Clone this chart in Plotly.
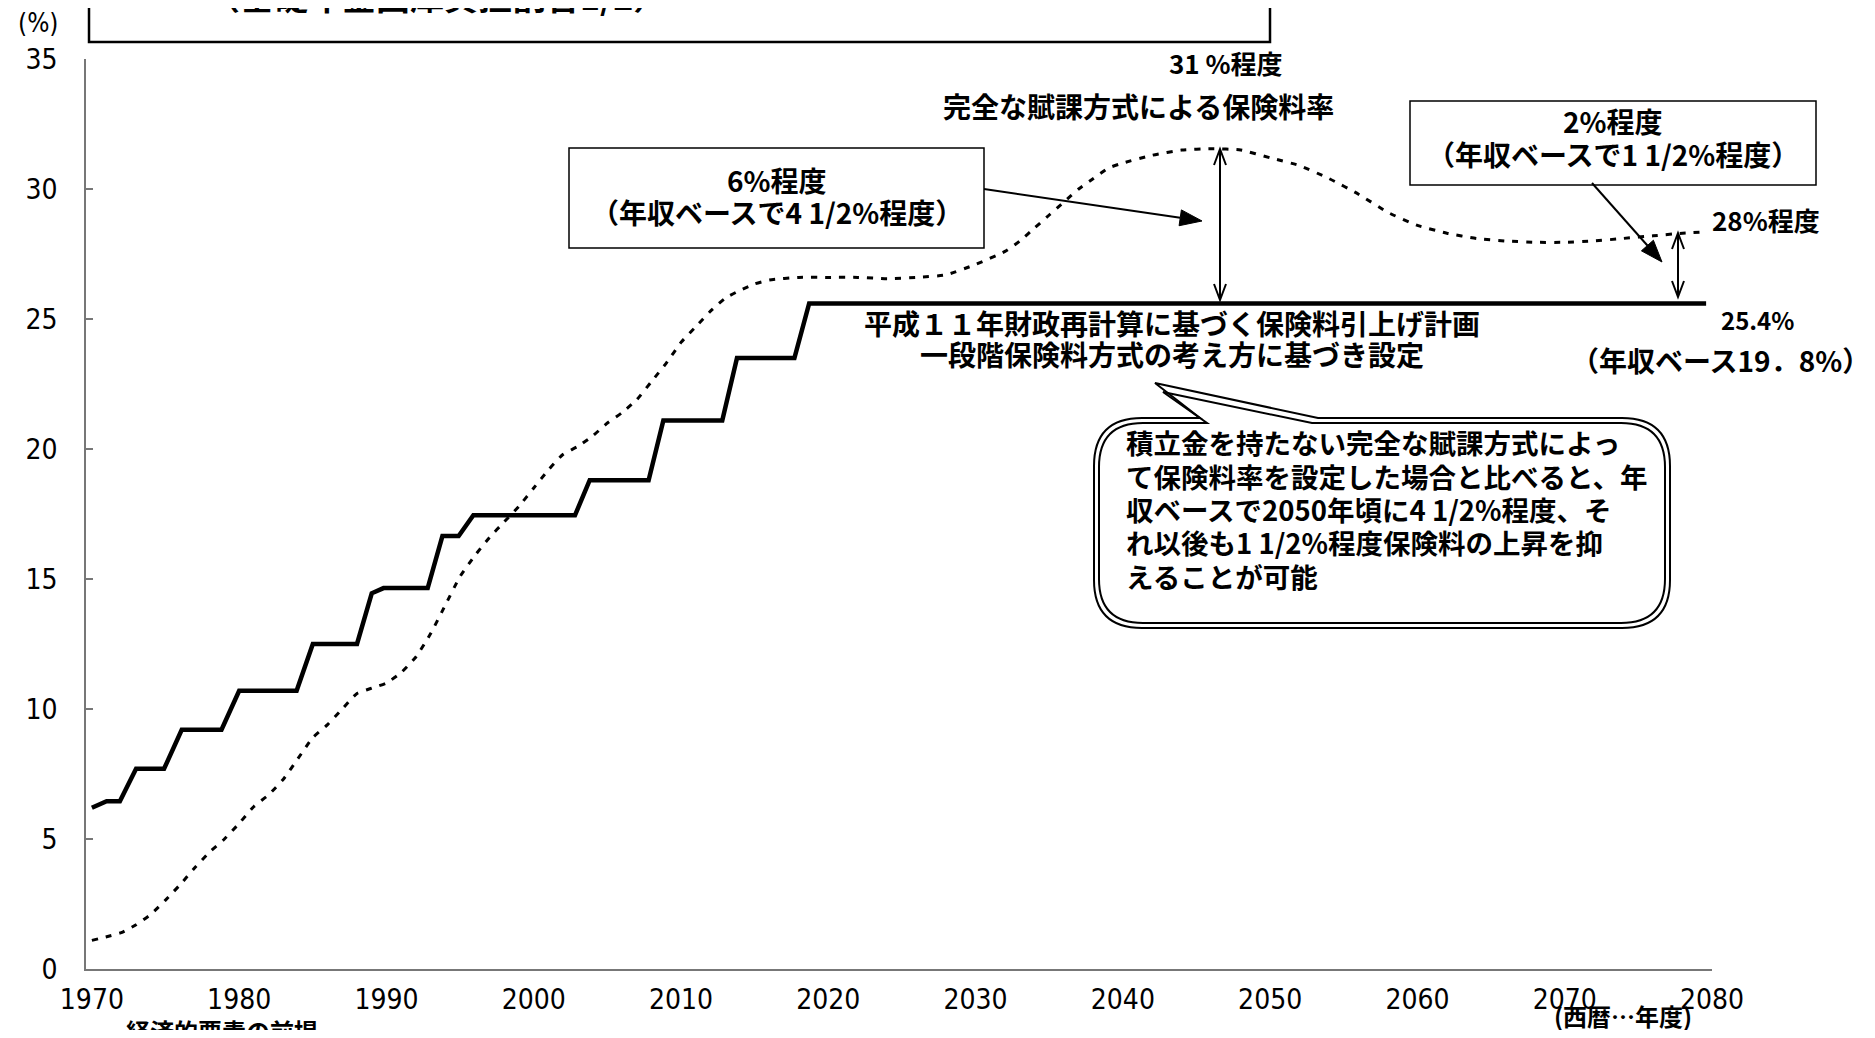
import plotly.graph_objects as go

# ---------------- data ----------------
solid_years = [1970, 1971, 1971.9, 1973.0, 1974.9, 1976.1, 1978.8, 1980.0, 1983.9,
               1985.0, 1988.0, 1989.0, 1989.8, 1992.8, 1993.8, 1994.9, 1995.9, 2002.8,
               2003.8, 2007.8, 2008.8, 2012.8, 2013.8, 2017.7, 2018.7, 2079.6]
solid_rates = [6.2, 6.45, 6.45, 7.7, 7.7, 9.2, 9.2, 10.7, 10.7,
               12.5, 12.5, 14.45, 14.65, 14.65, 16.65, 16.65, 17.45, 17.45,
               18.8, 18.8, 21.1, 21.1, 23.5, 23.5, 25.6, 25.6]

paygo_years = [1970, 1972, 1973, 1974, 1975, 1976, 1977, 1978, 1979, 1980, 1981, 1982,
               1983, 1984, 1985, 1986, 1987, 1988, 1989, 1990, 1991, 1992, 1993, 1994,
               1995, 1996, 1997, 1998, 1999, 2000, 2001, 2002, 2003, 2004, 2005, 2006,
               2007, 2008, 2009, 2010, 2011, 2012, 2013, 2014, 2015, 2016, 2018, 2020,
               2022, 2024, 2026, 2028, 2030, 2032, 2033, 2034, 2035, 2036, 2037, 2038,
               2039, 2040, 2042, 2044, 2046, 2048, 2050, 2052, 2054, 2056, 2058, 2060,
               2062, 2064, 2066, 2068, 2070, 2072, 2074, 2076, 2078, 2079.5]
paygo_rates = [1.1, 1.4, 1.7, 2.1, 2.65, 3.25, 3.9, 4.5, 5.0, 5.6, 6.25, 6.7,
               7.3, 8.1, 8.9, 9.4, 10.0, 10.6, 10.8, 11.0, 11.4, 12.0, 12.9, 14.0,
               15.1, 15.9, 16.6, 17.2, 17.8, 18.5, 19.2, 19.8, 20.1, 20.5, 21.0, 21.4,
               21.9, 22.6, 23.3, 24.1, 24.7, 25.3, 25.8, 26.1, 26.35, 26.5, 26.6, 26.6,
               26.6, 26.55, 26.6, 26.7, 27.1, 27.6, 28.0, 28.5, 29.0, 29.5, 30.0, 30.4,
               30.8, 31.0, 31.3, 31.5, 31.55, 31.5, 31.2, 30.9, 30.4, 29.8, 29.1, 28.6,
               28.3, 28.1, 28.0, 27.95, 27.95, 28.0, 28.1, 28.2, 28.3, 28.35]

x_ticks = list(range(1970, 2081, 10))
y_ticks = list(range(0, 36, 5))

# ---------------- geometry helpers ----------------
W, H, OFF = 1859, 1022, 8
PX0, PX1, PY0, PY1 = 86, 1712, 59, 969
JP_SHIFT = -2.5


def P(xr, yr):
    return ((xr - PX0) / (PX1 - PX0), (PY1 - yr) / (PY1 - PY0))


def path(pts, close=False):
    s = ""
    for i, (a, b) in enumerate(pts):
        px, py = P(a, b)
        s += ("M" if i == 0 else "L") + f"{px:.5f},{py:.5f} "
    if close:
        s += "Z"
    return s


def rounded_bubble(x0, y0, x1, y1, r, tip, b1, b2):
    def p(a, b):
        px, py = P(a, b)
        return f"{px:.5f},{py:.5f}"
    s = f"M{p(x0 + r, y0)} L{p(b1, y0)} L{p(*tip)} L{p(b2, y0)} L{p(x1 - r, y0)} "
    s += f"Q{p(x1, y0)} {p(x1, y0 + r)} L{p(x1, y1 - r)} Q{p(x1, y1)} {p(x1 - r, y1)} "
    s += f"L{p(x0 + r, y1)} Q{p(x0, y1)} {p(x0, y1 - r)} L{p(x0, y0 + r)} Q{p(x0, y0)} {p(x0 + r, y0)} Z"
    return s


fig = go.Figure()
fig.add_trace(go.Scatter(x=paygo_years, y=paygo_rates, mode="lines",
                         line=dict(color="black", width=3, dash="6px,8px", shape="spline", smoothing=0.5),
                         hoverinfo="skip", showlegend=False))
fig.add_trace(go.Scatter(x=solid_years, y=solid_rates, mode="lines",
                         line=dict(color="black", width=4.5),
                         hoverinfo="skip", showlegend=False))

NUM_FONT = "Liberation Sans Narrow, DejaVu Sans Condensed, Arial Narrow, sans-serif"
JP_FONT = "Noto Sans CJK JP, sans-serif"

shapes = []
annots = []


def txt(t, xr, yr, size=28, xanchor="center", bold=True, family=JP_FONT):
    if family == JP_FONT:
        yr = yr + JP_SHIFT
    x, y = P(xr, yr)
    annots.append(dict(text=t, x=x, y=y, xref="paper", yref="paper", showarrow=False,
                       xanchor=xanchor, yanchor="middle",
                       font=dict(family=family, size=size, color="black",
                                 weight="bold" if bold else "normal")))


# top title box (cut off)
shapes.append(dict(type="path", xref="paper", yref="paper",
                   path=path([(89, -40), (89, 42), (1270, 42), (1270, -40)]),
                   line=dict(color="black", width=2.5)))
txt("（基礎年金国庫負担割合1/2）", 436, -2, size=34)
txt("(%)", 38, 23, size=26, bold=False, family=NUM_FONT)

# 6% box
shapes.append(dict(type="rect", xref="paper", yref="paper",
                   x0=P(569, 0)[0], x1=P(984, 0)[0], y0=P(0, 248)[1], y1=P(0, 148)[1],
                   line=dict(color="black", width=1.5)))
txt("6%程度", 777, 183)
txt("（年収ベースで4 1/2%程度）", 777, 215)

# 2% box
shapes.append(dict(type="rect", xref="paper", yref="paper",
                   x0=P(1410, 0)[0], x1=P(1816, 0)[0], y0=P(0, 185)[1], y1=P(0, 101)[1],
                   line=dict(color="black", width=1.5)))
txt("2%程度", 1613, 124)
txt("（年収ベースで1 1/2%程度）", 1613, 157)


def filled_arrow(x0, y0, x1, y1, hl=22, hw=8):
    dx, dy = x1 - x0, y1 - y0
    L = (dx * dx + dy * dy) ** 0.5
    ux, uy = dx / L, dy / L
    nx, ny = -uy, ux
    bx, by = x1 - hl * ux, y1 - hl * uy
    shapes.append(dict(type="path", xref="paper", yref="paper",
                       path=path([(x0, y0), (bx, by)]), line=dict(color="black", width=2)))
    shapes.append(dict(type="path", xref="paper", yref="paper",
                       path=path([(x1, y1), (bx + hw * nx, by + hw * ny), (bx - hw * nx, by - hw * ny)], close=True),
                       fillcolor="black", line=dict(color="black", width=1)))


def double_arrow(x, ya, yb, hl=16, hw=6):
    shapes.append(dict(type="path", xref="paper", yref="paper",
                       path=path([(x, ya), (x, yb)]), line=dict(color="black", width=2)))
    shapes.append(dict(type="path", xref="paper", yref="paper",
                       path=path([(x - hw, ya + hl), (x, ya), (x + hw, ya + hl)]), line=dict(color="black", width=2)))
    shapes.append(dict(type="path", xref="paper", yref="paper",
                       path=path([(x - hw, yb - hl), (x, yb), (x + hw, yb - hl)]), line=dict(color="black", width=2)))


filled_arrow(984, 189, 1202, 221)
filled_arrow(1592, 183, 1662, 262)
double_arrow(1220, 149, 300)
double_arrow(1678, 233, 297)

# speech bubble (double outline)
shapes.append(dict(type="path", xref="paper", yref="paper",
                   path=rounded_bubble(1094, 418, 1670, 628, 48, (1155, 383), 1200, 1318),
                   line=dict(color="black", width=2), fillcolor="white"))
shapes.append(dict(type="path", xref="paper", yref="paper",
                   path=rounded_bubble(1099, 423, 1665, 623, 44, (1163, 392), 1207, 1312),
                   line=dict(color="black", width=2)))

callout = ["積立金を持たない完全な賦課方式によっ",
           "て保険料率を設定した場合と比べると、年",
           "収ベースで2050年頃に4 1/2%程度、そ",
           "れ以後も1 1/2%程度保険料の上昇を抑",
           "えることが可能"]
for i, line in enumerate(callout):
    txt(line, 1124, 445 + i * 33.3, size=27.5, xanchor="left")

txt("31 %程度", 1226, 65, size=26)
txt("完全な賦課方式による保険料率", 1138, 108)
txt("28%程度", 1766, 222, size=26)
txt("25.4%", 1757, 322, size=24)
txt("（年収ベース19．8%）", 1720, 362)
txt("平成１１年財政再計算に基づく保険料引上げ計画", 1172, 325)
txt("一段階保険料方式の考え方に基づき設定", 1172, 357)
txt("(西暦…年度)", 1623, 1018, size=24)
txt("経済的要素の前提", 222, 1033, size=24)

fig.update_layout(
    width=W, height=H,
    margin=dict(l=PX0 - OFF, r=W - (PX1 - OFF), t=PY0 - OFF, b=H - (PY1 - OFF)),
    paper_bgcolor="white", plot_bgcolor="white",
    shapes=shapes, annotations=annots,
    showlegend=False,
    xaxis=dict(range=[1969.6, 2080], tickvals=x_ticks, ticktext=[str(v) for v in x_ticks],
               showgrid=False, zeroline=False, showline=True, linecolor="#777777", linewidth=1.5,
               ticks="", tickfont=dict(family=NUM_FONT, size=28, color="black"),
               ticklabelstandoff=5),
    yaxis=dict(range=[0, 35], tickvals=y_ticks, showgrid=False, zeroline=False,
               showline=True, linecolor="#777777", linewidth=1.5,
               ticks="inside", ticklen=7, tickcolor="#777777", tickwidth=1.5,
               tickfont=dict(family=NUM_FONT, size=28, color="black"),
               ticklabelstandoff=21),
)

fig.write_html("out.html")
